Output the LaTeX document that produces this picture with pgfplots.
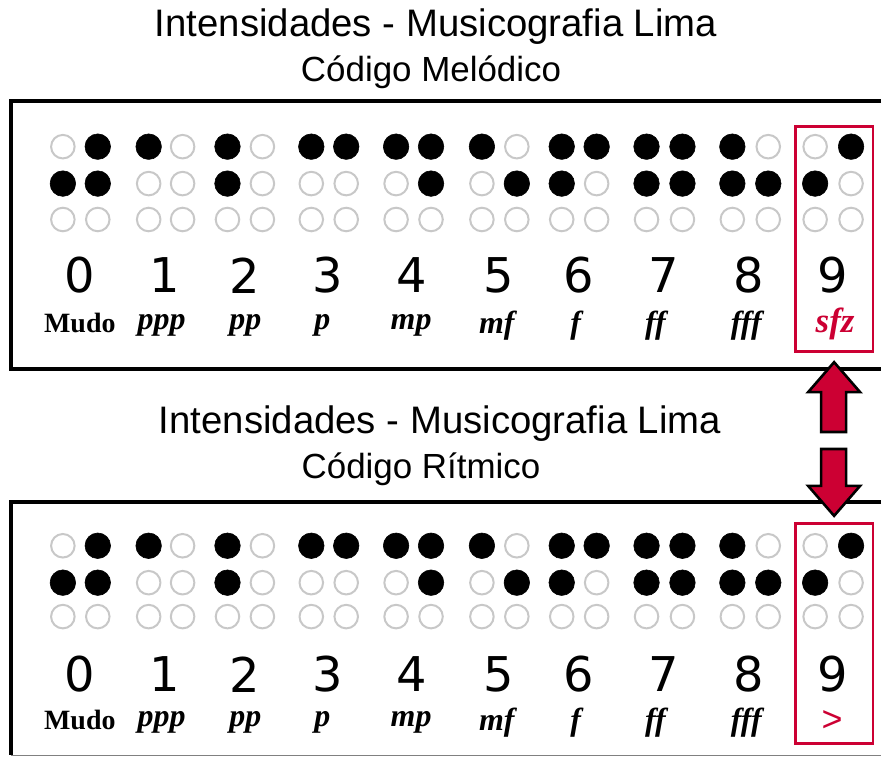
\documentclass[border=0pt]{standalone}
\usepackage{pgfplots}
\pgfplotsset{compat=1.18}
\usepackage{pgfplotstable}
\usepackage{fontspec}
\setmainfont{Liberation Serif}
\newfontfamily\arialf{Liberation Sans}
\newfontfamily\dejavu{DejaVu Sans}
\definecolor{crim}{RGB}{204,0,51}
\definecolor{ring}{RGB}{200,200,200}

% filled braille dots (pixel coordinates, y downward)
\pgfplotstableread{
x y
98 147
149 147
228 147
312 147
347 147
397 147
432 147
483 147
563 147
598 147
648 147
684 147
734 147
853 147
63 184
98 184
228 184
432 184
518 184
563 184
648 184
684 184
734 184
770 184
817 184
98 547
149 547
228 547
312 547
347 547
397 547
432 547
483 547
563 547
598 547
648 547
684 547
734 547
853 547
63 584
98 584
228 584
432 584
518 584
563 584
648 584
684 584
734 584
770 584
817 584
}\filleddots

% empty braille dots
\pgfplotstableread{
x y
63 147
183 147
263 147
518 147
770 147
817 147
149 184
183 184
263 184
312 184
347 184
397 184
483 184
598 184
853 184
63 220
98 220
149 220
183 220
228 220
263 220
312 220
347 220
397 220
432 220
483 220
518 220
563 220
598 220
648 220
684 220
734 220
770 220
817 220
853 220
63 547
183 547
263 547
518 547
770 547
817 547
149 584
183 584
263 584
312 584
347 584
397 584
483 584
598 584
853 584
63 618
98 618
149 618
183 618
228 618
263 618
312 618
347 618
397 618
432 618
483 618
518 618
563 618
598 618
648 618
684 618
734 618
770 618
817 618
853 618
}\emptydots

\tikzset{
  dig/.style={font=\dejavu\fontsize{24}{28}\selectfont},
  dyn/.style={font=\fontsize{16}{19}\selectfont\bfseries\itshape},
  mudo/.style={font=\fontsize{14}{17}\selectfont\bfseries},
}

\begin{document}
\begin{tikzpicture}
\begin{axis}[
  x=0.5pt, y=0.5pt, y dir=reverse,
  xmin=0, xmax=883, ymin=0, ymax=760,
  hide axis, clip=false, scale only axis,
]
% canvas
\addplot[draw=none, fill=white] coordinates {(0,0) (883,0) (883,760) (0,760)} --cycle;

% frames
\addplot[black, line width=2pt] coordinates {(883,101.5) (11.5,101.5) (11.5,369.5) (883,369.5)};
\addplot[black, line width=2pt] coordinates {(883,503.5) (11.5,503.5) (11.5,757)};
\addplot[gray, line width=0.6pt] coordinates {(11.5,757) (883,757)};

% red boxes
\addplot[crim, line width=1.4pt] coordinates {(797,127) (875,127) (875,352) (797,352)} --cycle;
\addplot[crim, line width=1.4pt] coordinates {(797,525) (875,525) (875,745) (797,745)} --cycle;

% arrows
\addplot[draw=black, fill=crim, line width=1.3pt, line join=miter] coordinates {(836,363) (862,393) (848,393) (848,433) (823,433) (823,393) (810,393)} --cycle;
\addplot[draw=black, fill=crim, line width=1.3pt, line join=miter] coordinates {(823,450) (848,450) (848,487) (862,487) (836,517) (810,487) (823,487)} --cycle;

% braille dots
\addplot[only marks, mark=*, mark size=6.4pt, mark options={fill=black, draw=black, line width=0.3pt}] table[x=x, y=y] {\filleddots};
\addplot[only marks, mark=o, mark size=5.9pt, mark options={draw=ring, line width=1pt, fill=white}] table[x=x, y=y] {\emptydots};

% titles
\node[font=\arialf\fontsize{19.2}{23}\selectfont] at (axis cs:437,27) {Intensidades - Musicografia Lima};
\node[font=\arialf\fontsize{17.5}{21}\selectfont] at (axis cs:432,72) {Código Melódico};
\node[font=\arialf\fontsize{19.2}{23}\selectfont] at (axis cs:441,425) {Intensidades - Musicografia Lima};
\node[font=\arialf\fontsize{17.5}{21}\selectfont] at (axis cs:422,470) {Código Rítmico};

% digits (top)
\node[dig] at (axis cs:80,276) {0};
\node[dig] at (axis cs:165,276) {1};
\node[dig] at (axis cs:245,276) {2};
\node[dig] at (axis cs:328,276) {3};
\node[dig] at (axis cs:413,276) {4};
\node[dig] at (axis cs:500,276) {5};
\node[dig] at (axis cs:580,276) {6};
\node[dig] at (axis cs:665,276) {7};
\node[dig] at (axis cs:750,276) {8};
\node[dig] at (axis cs:835,276) {9};
% digits (bottom)
\node[dig] at (axis cs:80,676) {0};
\node[dig] at (axis cs:165,676) {1};
\node[dig] at (axis cs:245,676) {2};
\node[dig] at (axis cs:328,676) {3};
\node[dig] at (axis cs:413,676) {4};
\node[dig] at (axis cs:500,676) {5};
\node[dig] at (axis cs:580,676) {6};
\node[dig] at (axis cs:665,676) {7};
\node[dig] at (axis cs:750,676) {8};
\node[dig] at (axis cs:835,676) {9};

% dynamics (top)
\node[mudo] at (axis cs:80,324) {Mudo};
\node[dyn] at (axis cs:162,326) {ppp};
\node[dyn] at (axis cs:246,326) {pp};
\node[dyn] at (axis cs:323,326) {p};
\node[dyn] at (axis cs:412,326) {mp};
\node[dyn] at (axis cs:498,326) {mf};
\node[dyn] at (axis cs:577,326) {f};
\node[dyn] at (axis cs:657,326) {ff};
\node[dyn] at (axis cs:748,326) {fff};
\node[font=\fontsize{17.5}{20}\selectfont\bfseries\itshape, text=crim] at (axis cs:837,325) {sfz};
% dynamics (bottom)
\node[mudo] at (axis cs:80,722) {Mudo};
\node[dyn] at (axis cs:162,724) {ppp};
\node[dyn] at (axis cs:246,724) {pp};
\node[dyn] at (axis cs:323,724) {p};
\node[dyn] at (axis cs:412,724) {mp};
\node[dyn] at (axis cs:498,724) {mf};
\node[dyn] at (axis cs:577,724) {f};
\node[dyn] at (axis cs:657,724) {ff};
\node[dyn] at (axis cs:748,724) {fff};
\node[font=\arialf\fontsize{18}{21}\selectfont, text=crim] at (axis cs:834,723) {>};
\end{axis}
\end{tikzpicture}
\end{document}
